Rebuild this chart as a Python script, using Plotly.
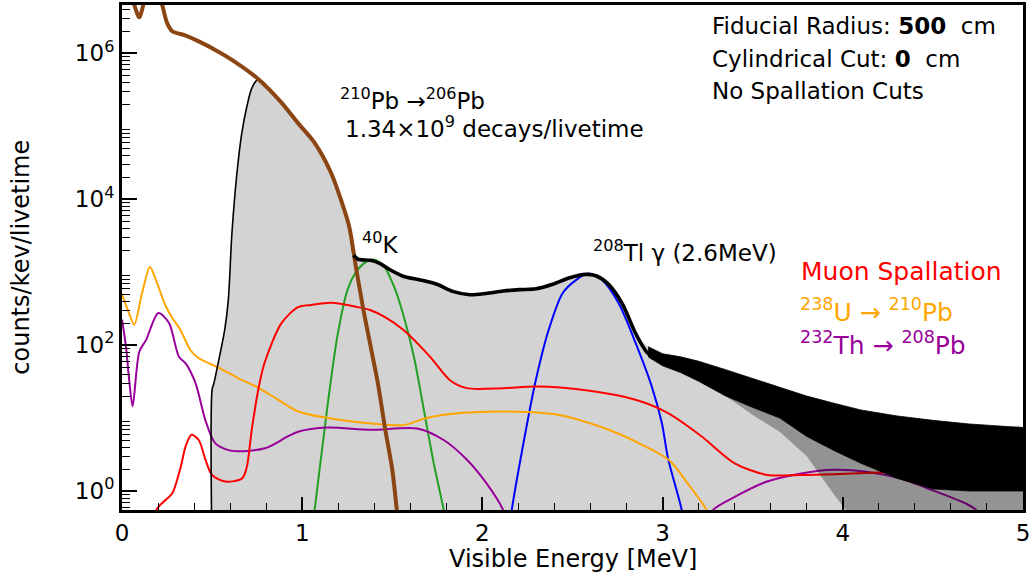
import plotly.graph_objects as go

# ---------------- spectra: energy [MeV] vs counts/keV/livetime ----------------
# 210Pb -> 206Pb component
pb210_e = [0.03, 0.068, 0.096, 0.12, 0.15, 0.19, 0.223, 0.25, 0.279, 0.35, 0.426, 0.52, 0.61,
           0.757, 0.885, 0.977, 1.069, 1.16, 1.215, 1.26, 1.30, 1.34, 1.38, 1.42, 1.46, 1.50,
           1.525, 1.54]
pb210_y = [1.0e7, 4.6e6, 3.1e6, 4.8e6, 8.9e6, 8.9e6, 4.6e6, 2.6e6, 2.0e6, 1.75e6, 1.45e6, 1.1e6,
           8.1e5, 4.4e5, 2.1e5, 1.1e5, 5.9e4, 2.3e4, 9.8e3, 4.3e3, 1.1e3, 300, 95, 30, 7.2, 1.95,
           0.55, 0.25]

# total simulated spectrum (histogram), smooth part
total_e = [0.5, 0.5, 0.51, 0.535, 0.57, 0.59, 0.61, 0.638, 0.665, 0.693, 0.72, 0.757, 0.885,
           0.977, 1.069, 1.16, 1.215, 1.262, 1.285, 1.31, 1.38, 1.435, 1.49, 1.565, 1.656,
           1.748, 1.84, 1.93, 2.02, 2.115, 2.206, 2.298, 2.39, 2.48, 2.574, 2.63, 2.70, 2.776,
           2.85, 2.904, 2.95]
total_y = [0.1, 24.5, 30, 59, 162, 417, 3.4e3, 2.3e4, 8.1e4, 1.86e5, 3.3e5, 4.4e5, 2.1e5,
           1.1e5, 5.9e4, 2.3e4, 9.8e3, 4.3e3, 1.7e3, 1.5e3, 1.45e3, 1.3e3, 1.07e3, 870, 780,
           680, 540, 490, 510, 550, 575, 590, 680, 830, 930, 890, 680, 370, 145, 85, 65]

# total spectrum, statistically noisy tail: upper edge, solid lower edge, deepest spikes
tail_e = [2.92, 3.0, 3.1, 3.2, 3.35, 3.5, 3.65, 3.8, 3.95, 4.1, 4.3, 4.5, 4.7, 4.9, 5.0]
tail_hi = [95, 76, 69, 60, 46, 35, 26, 20, 16, 12.9, 10.7, 9.3, 8.3, 7.6, 7.4]
tail_mid = [69, 52, 42, 32, 20, 14, 10, 5.6, 3.6, 2.4, 1.5, 1.07, 1.0, 1.0, 1.0]
tail_lo = [69, 52, 42, 32, 20, 11, 6.5, 3.0, 0.9, 0.3, 0.3, 0.3, 0.3, 0.3, 0.3]

# 40K gamma line
k40_e = [1.05, 1.069, 1.142, 1.197, 1.252, 1.307, 1.362, 1.40, 1.454, 1.51, 1.564, 1.62,
         1.675, 1.73, 1.785, 1.80]
k40_y = [0.25, 0.55, 15.8, 140, 575, 1.07e3, 1.41e3, 1.48e3, 1.2e3, 630, 245, 69, 13, 2.4,
         0.55, 0.3]

# 208Tl 2.6 MeV gamma
tl208_e = [2.15, 2.163, 2.243, 2.295, 2.368, 2.445, 2.519, 2.59, 2.666, 2.757, 2.85, 2.94,
           2.996, 3.03, 3.106, 3.12]
tl208_y = [0.3, 0.55, 7.2, 32, 162, 513, 776, 955, 776, 372, 107, 27, 8.5, 2.8, 0.55, 0.3]

# muon spallation products
muon_e = [0.17, 0.19, 0.243, 0.279, 0.325, 0.353, 0.386, 0.426, 0.463, 0.5, 0.573, 0.665,
          0.692, 0.72, 0.757, 0.79, 0.885, 0.977, 1.05, 1.16, 1.31, 1.38, 1.455, 1.564, 1.71,
          1.82, 1.913, 2.115, 2.30, 2.574, 2.85, 3.03, 3.217, 3.40, 3.58, 3.77, 3.95, 4.32,
          4.83, 5.0]
muon_y = [0.25, 0.55, 0.76, 0.93, 2.1, 4.1, 5.9, 5.0, 2.7, 1.66, 1.35, 1.48, 2.1, 6.9, 25,
          56, 200, 330, 355, 380, 330, 300, 245, 160, 69, 33, 25.7, 25.7, 27, 24, 17.8, 11.7,
          5.6, 2.4, 1.66, 1.66, 1.7, 1.84, 1.95, 1.95]

# 238U -> 210Pb chain
u238_e = [0.0, 0.035, 0.068, 0.11, 0.155, 0.188, 0.243, 0.279, 0.325, 0.38, 0.426, 0.536,
          0.646, 0.757, 0.867, 0.977, 1.142, 1.325, 1.564, 1.69, 1.876, 2.15, 2.427, 2.70,
          2.886, 3.04, 3.14, 3.244, 3.28]
u238_y = [500, 290, 190, 500, 1.17e3, 780, 340, 235, 160, 85, 66, 49, 35, 26, 17.8, 12.3, 10,
          8.7, 8.0, 10, 11.7, 12.3, 11, 6.9, 4.3, 2.6, 1.26, 0.55, 0.32]

# 232Th -> 208Pb chain (two visible pieces)
th232_e = [0.0, 0.022, 0.04, 0.059, 0.096, 0.133, 0.202, 0.261, 0.316, 0.353, 0.408, 0.463,
           0.518, 0.61, 0.793, 0.92, 0.977, 1.142, 1.38, 1.638, 1.785, 1.913, 2.023, 2.115,
           2.14, None, 3.25, 3.28, 3.40, 3.58, 3.77, 3.95, 4.13, 4.32, 4.5, 4.68, 4.74, 4.78]
th232_y = [224, 95, 33, 14.5, 81, 117, 275, 200, 69, 56, 30, 9.3, 4.5, 3.55, 3.85, 5.6, 6.5,
           7.4, 6.9, 7.2, 5.0, 2.7, 1.27, 0.55, 0.35, None, 0.35, 0.55, 0.83, 1.35, 1.74, 1.95,
           1.84, 1.48, 1.02, 0.68, 0.55, 0.4]

# axis ticks
x_ticks = [0, 1, 2, 3, 4, 5]
y_ticks = [1, 100, 1e4, 1e6]
y_ticktext = ["10<sup>0</sup>", "10<sup>2</sup>", "10<sup>4</sup>", "10<sup>6</sup>"]

FONT = "DejaVu Sans"
GRAY = "#d3d3d3"
BROWN = "#8b4513"
RED = "#ff0000"
ORANGE = "#ffa500"
PURPLE = "#990099"
GREEN = "#22a022"
BLUE = "#0000ff"

fig = go.Figure()

# grey area under the total spectrum (corners doubled so the spline stays square)
fill_x = total_e[:-2] + tail_e + [5.0, 5.0, 0.5, 0.5]
fill_y = total_y[:-2] + tail_hi + [0.1, 0.1, 0.1, 0.1]
fig.add_trace(go.Scatter(x=fill_x, y=fill_y, mode="lines", fill="toself", fillcolor=GRAY,
                         line=dict(width=0, shape="spline", smoothing=0.8),
                         hoverinfo="skip", showlegend=False))


def curve(xs, ys, color, width=2.0):
    fig.add_trace(go.Scatter(x=xs, y=ys, mode="lines", connectgaps=False,
                             line=dict(color=color, width=width, shape="spline", smoothing=0.8),
                             showlegend=False))


curve(k40_e, k40_y, GREEN)
curve(tl208_e, tl208_y, BLUE)
curve(u238_e, u238_y, ORANGE)
curve(th232_e, th232_y, PURPLE)
curve(muon_e, muon_y, RED)

# total spectrum: thin rising edge, thick noisy body
curve(total_e, total_y, "black", 1.6)
curve(pb210_e, pb210_y, BROWN, 4.0)
k = total_e.index(1.285)
curve(total_e[k:], total_y[k:], "black", 3.6)

# noisy tail as bands
fig.add_trace(go.Scatter(x=tail_e + tail_e[::-1], y=tail_mid + tail_lo[::-1], mode="lines",
                         fill="toself", fillcolor="rgba(0,0,0,0.3)", line=dict(width=0),
                         hoverinfo="skip", showlegend=False))
fig.add_trace(go.Scatter(x=tail_e + tail_e[::-1], y=tail_hi + tail_mid[::-1], mode="lines",
                         fill="toself", fillcolor="black", line=dict(width=0.8, color="black"),
                         hoverinfo="skip", showlegend=False))

# ---------------- labels ----------------
def label(x, y, text, size, color="black"):
    fig.add_annotation(x=x, y=y, xref="x", yref="y", text=text, showarrow=False,
                       xanchor="left", yanchor="middle",
                       font=dict(family=FONT, size=size, color=color))


label(3.262, 6.372, "Fiducial Radius: <b>500</b>\u00a0\u00a0cm", 23)
label(3.262, 5.92, "Cylindrical Cut: <b>0</b>\u00a0\u00a0cm", 23)
label(3.262, 5.48, "No Spallation Cuts", 23)

label(1.197, 5.37, "<sup>210</sup>Pb \u2192<sup>206</sup>Pb", 23)
label(1.225, 4.99, "1.34\u00d710<sup>9</sup> decays/livetime", 23)
label(1.318, 3.40, "<sup>40</sup>K", 23)
label(2.60, 3.29, "<sup>208</sup>Tl \u03b3 (2.6MeV)", 23)

label(3.758, 3.005, "Muon Spallation", 25, RED)
label(3.752, 2.47, "<sup>238</sup>U \u2192 <sup>210</sup>Pb", 25, ORANGE)
label(3.752, 2.02, "<sup>232</sup>Th \u2192 <sup>208</sup>Pb", 25, PURPLE)

fig.add_annotation(x=-0.113, y=0.5, xref="paper", yref="paper", text="counts/kev/livetime",
                   textangle=-90, showarrow=False, xanchor="center", yanchor="middle",
                   font=dict(family=FONT, size=24, color="black"))
fig.add_annotation(x=0.501, y=-0.098, xref="paper", yref="paper", text="Visible Energy [MeV]",
                   showarrow=False, xanchor="center", yanchor="middle",
                   font=dict(family=FONT, size=24, color="black"))

minor_y = [m * 10 ** d for d in range(-1, 7) for m in range(2, 10)]

fig.update_xaxes(range=[0, 5], tickmode="array", tickvals=x_ticks, ticks="inside",
                 ticklen=13, tickwidth=1.6, tickcolor="black", ticklabeloverflow="allow",
                 minor=dict(dtick=0.2, tick0=0, ticks="inside", ticklen=7, tickwidth=1.4,
                            tickcolor="black"),
                 showline=True, linewidth=3, linecolor="black", mirror=True,
                 showgrid=False, zeroline=False,
                 tickfont=dict(family=FONT, size=23, color="black"))
fig.update_yaxes(type="log", range=[-0.26, 6.66], tickmode="array", tickvals=y_ticks,
                 ticktext=y_ticktext, ticks="inside", ticklen=15, tickwidth=1.6,
                 tickcolor="black",
                 minor=dict(tickmode="array", tickvals=minor_y, ticks="inside", ticklen=8,
                            tickwidth=1.4, tickcolor="black"),
                 showline=True, linewidth=3, linecolor="black", mirror=True,
                 showgrid=False, zeroline=False,
                 tickfont=dict(family=FONT, size=23, color="black"))

fig.update_layout(width=1031, height=576, margin=dict(l=122, r=1, t=5, b=66),
                  paper_bgcolor="white", plot_bgcolor="white", showlegend=False,
                  font=dict(family=FONT))

fig.write_html("out.html")
